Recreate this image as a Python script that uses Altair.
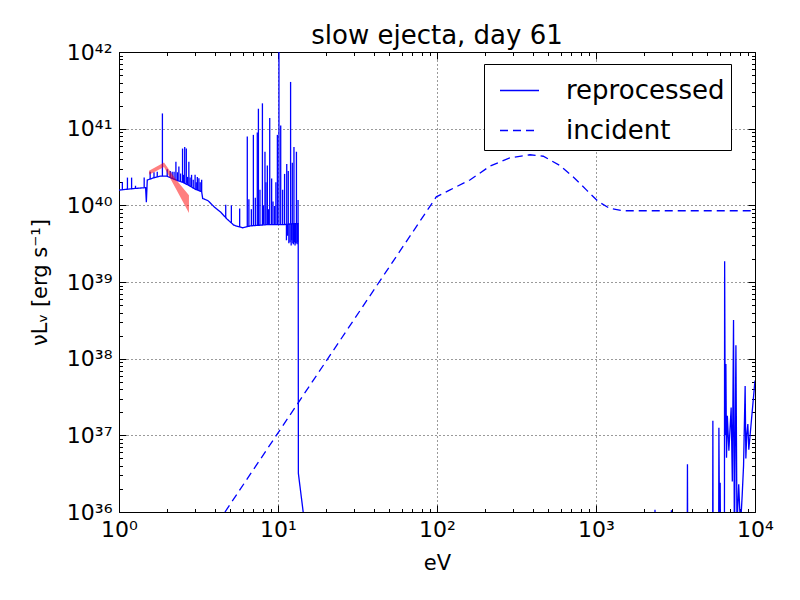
import altair as alt
import pandas as pd

# ---------------- data ----------------
# reprocessed spectrum: continuum path (eV, erg/s); 1e35 = below the axis
rep_ev = [1.00, 1.12, 1.26, 1.47, 1.486, 1.506, 1.66, 1.82, 2.00, 2.28, 2.51, 2.75,
          3.02, 3.31, 3.36, 3.63, 3.98, 4.37, 4.79, 5.28, 5.97, 6.73, 8.57, 10.9,
          12.3, 13.40, 13.43, 14.4, 14.8,
          2330, 2350, 2370, 2960, 2980, 3000, 3740, 3760, 3780,
          5410, 5433, 5455, 5900, 5929, 5990, 6039, 6090, 6420, 6442, 6500, 6560,
          6620, 6700, 6850, 7079, 7200, 7328, 7420, 7586, 7700, 7900, 8100, 8300,
          8472, 8670, 8760, 8870, 9016, 9141, 10000]
rep_lum = [1.58e40, 1.62e40, 1.66e40, 1.70e40, 1.10e40, 2.14e40, 2.29e40, 2.40e40, 2.40e40,
           2.14e40, 2.00e40, 1.82e40, 1.62e40, 1.51e40, 1.23e40, 1.15e40, 9.5e39, 8.1e39,
           6.6e39, 5.5e39, 5.1e39, 5.4e39, 5.6e39, 5.6e39, 5.75e39, 5.75e39, 3.2e36,
           1.0e36, 1e35,
           1e35, 1.07e36, 1e35, 1e35, 1.05e36, 1e35, 1e35, 4.2e36, 1e35,
           1e35, 1.55e37, 1e35, 1e35, 1.26e37, 3.2e35, 2.4e36, 1e35, 1e35, 1.86e39,
           1.0e37, 8.5e37, 5.1e36, 1.8e37, 6.3e36, 2.3e37, 2.5e36, 3.2e38, 3.2e35,
           1.5e38, 6.3e35, 2.3e36, 6.3e35, 1.6e36, 4.0e36, 4.4e37, 5.0e36, 1.0e37,
           1.4e37, 6.5e36, 5.2e37]

# emission / absorption lines of the reprocessed spectrum (eV, base, tip)
sp_ev = [1.05, 1.13, 1.20, 1.27, 1.44, 1.57, 1.66, 1.74, 1.875, 2.01, 2.10, 2.16,
         2.22, 2.28, 2.33, 2.38, 2.44, 2.51, 2.55, 2.59, 2.65, 2.70, 2.75, 2.80,
         2.86, 2.93, 3.01, 3.06, 3.11, 3.18, 3.24, 3.31,
         4.69, 5.09, 5.74, 6.41, 6.56, 6.80, 7.00, 7.20, 7.41, 7.53, 7.70, 7.98,
         8.10, 8.28, 8.40, 8.57, 8.70, 8.87, 9.12, 9.30, 9.53, 9.70, 9.91, 10.14,
         10.4, 10.7, 11.0, 11.35, 11.6, 12.0, 12.3, 12.6, 13.06, 13.37,
         11.3, 11.5, 11.7, 11.9, 12.1, 12.2, 12.4, 12.5, 12.7, 12.8, 12.9, 13.0,
         13.2, 13.3]
sp_base = [1.59e40, 1.62e40, 1.63e40, 1.66e40, 1.70e40, 2.19e40, 2.29e40, 2.34e40,
           2.40e40, 2.40e40, 2.29e40, 2.24e40, 2.19e40, 2.14e40, 2.14e40, 2.09e40,
           2.04e40, 2.00e40, 1.95e40, 1.95e40, 1.91e40, 1.86e40, 1.82e40, 1.78e40,
           1.74e40, 1.66e40, 1.62e40, 1.58e40, 1.58e40, 1.55e40, 1.53e40, 1.51e40,
           6.8e39, 5.9e39, 5.2e39, 5.2e39, 5.2e39, 5.4e39, 5.4e39, 5.5e39, 5.5e39,
           5.5e39, 5.5e39, 5.5e39, 5.6e39, 5.6e39, 5.6e39, 5.6e39, 5.6e39, 5.6e39,
           5.6e39, 5.6e39, 5.6e39, 5.6e39, 5.6e39, 5.6e39, 5.6e39, 5.6e39, 5.6e39,
           5.6e39, 5.6e39, 5.75e39, 5.75e39, 5.75e39, 5.75e39, 5.75e39,
           5.6e39, 5.6e39, 5.75e39, 5.75e39, 5.75e39, 5.75e39, 5.75e39, 5.75e39,
           5.75e39, 5.75e39, 5.75e39, 5.75e39, 5.75e39, 5.75e39]
sp_peak = [2.0e40, 2.3e40, 2.3e40, 1.8e40, 2.3e40, 2.75e40, 2.7e40, 2.75e40,
           1.58e41, 2.95e40, 2.8e40, 2.75e40, 2.75e40, 3.7e40, 2.7e40, 3.2e40,
           2.6e40, 5.5e40, 2.5e40, 5.75e40, 5.5e40, 2.35e40, 3.7e40, 2.3e40,
           2.5e40, 2.15e40, 2.5e40, 2.0e40, 2.35e40, 2.25e40, 2.0e40, 2.15e40,
           1.02e40, 1.0e40, 9.1e39, 7.9e40, 1.2e40, 8.9e39, 8.3e40, 1.26e40, 8.9e40,
           1.82e41, 1.6e40, 2.14e41, 1.0e40, 5.0e40, 2.0e40, 3.3e40, 8.9e39, 1.38e41,
           2.24e40, 1.12e40, 9.8e39, 2.0e40, 8.3e40, 3.0e42, 1.1e41, 1.6e40, 2.57e40,
           3.47e40, 2.8e40, 4.07e41, 3.6e40, 5.75e40, 5.0e40, 1.17e40,
           3.5e39, 4.0e39, 3.2e39, 3.3e39, 3.0e39, 3.5e39, 3.2e39, 3.1e39, 3.3e39,
           3.0e39, 3.2e39, 3.2e39, 3.1e39, 3.3e39]

# incident spectrum (eV, erg/s)
inc_ev = [4.64, 99.0, 120, 161, 215, 287, 384, 466, 593, 720, 873, 1033, 1224,
          1486, 10000]
inc_lum = [1.0e36, 1.29e40, 1.58e40, 2.14e40, 3.24e40, 4.17e40, 4.57e40, 4.37e40,
           3.31e40, 2.34e40, 1.58e40, 1.12e40, 9.1e39, 8.5e39, 8.5e39]

# red band
band_ev = [1.545, 1.919, 2.275, 2.754]
band_lo = [2.51e40, 3.16e40, 1.66e40, 7.94e39]
band_hi = [2.82e40, 3.63e40, 2.19e40, 1.35e40]

series_names = ["reprocessed", "incident"]
x_major = [1, 10, 100, 1000, 10000]
x_labels = ["10⁰", "10¹", "10²", "10³", "10⁴"]
y_major = [1e36, 1e37, 1e38, 1e39, 1e40, 1e41, 1e42]
y_labels = ["10³⁶", "10³⁷", "10³⁸", "10³⁹", "10⁴⁰", "10⁴¹", "10⁴²"]
x_minor = [m * v for v in x_major[:-1] for m in range(2, 10)]
y_minor = [m * v for v in y_major[:-1] for m in range(2, 10)]

# ---------------- tables ----------------
lines_df = pd.concat([
    pd.DataFrame({"series": "reprocessed", "ev": rep_ev, "lum": rep_lum,
                  "idx": range(len(rep_ev))}),
    pd.DataFrame({"series": "incident", "ev": inc_ev, "lum": inc_lum,
                  "idx": range(len(inc_ev))}),
])
spikes_df = pd.DataFrame({"ev": sp_ev, "base": sp_base, "peak": sp_peak})
band_df = pd.DataFrame({"ev": band_ev, "lo": band_lo, "hi": band_hi})


def label_expr(vals, labels):
    expr = "'%s'" % labels[-1]
    for v, lab in reversed(list(zip(vals[:-1], labels[:-1]))):
        expr = "datum.value < %r ? '%s' : %s" % (v * 2.5, lab, expr)
    return expr


FONT = "DejaVu Sans"
BLUE = "#0000ff"
xs = alt.Scale(type="log", domain=[1, 10000], nice=False, padding=0)
ys = alt.Scale(type="log", domain=[1e36, 1e42], nice=False, padding=0)

grid_common = dict(gridColor="black", gridDash=[1, 3], gridWidth=0.8, gridOpacity=1,
                   ticks=False, domain=False, labelFlush=False, labelFont=FONT,
                   labelFontSize=22, labelColor="black", titleFont=FONT,
                   titleFontSize=21, titleFontWeight="normal", titleColor="black")


def tick_axis(orient, values, size):
    return alt.Axis(orient=orient, values=values, labels=False, grid=False,
                    domain=False, tickSize=size, offset=-size, tickColor="black",
                    tickWidth=1, title=None)


legend = alt.Legend(title=None, orient="none", legendX=365, legendY=12,
                    symbolType="stroke", symbolSize=1521, symbolStrokeWidth=1.3,
                    symbolOffset=9, labelOffset=26, labelFont=FONT,
                    labelFontSize=26, labelColor="black", padding=6,
                    strokeColor="black", fillColor="white", cornerRadius=0,
                    rowPadding=6)

lines = alt.Chart(lines_df).mark_line(clip=True, strokeWidth=1.3).encode(
    x=alt.X("ev:Q", scale=xs,
            axis=alt.Axis(values=x_major, labelExpr=label_expr(x_major, x_labels),
                          grid=True, title="eV", labelPadding=7, titlePadding=12,
                          **grid_common)),
    y=alt.Y("lum:Q", scale=ys,
            axis=alt.Axis(values=y_major, labelExpr=label_expr(y_major, y_labels),
                          grid=True, title="νLᵥ [erg s⁻¹]", labelPadding=7,
                          titlePadding=16, **grid_common)),
    color=alt.Color("series:N", scale=alt.Scale(domain=series_names,
                                                range=[BLUE, BLUE]), legend=legend),
    strokeDash=alt.StrokeDash("series:N", scale=alt.Scale(domain=series_names,
                                                          range=[[1, 0], [8, 5]]),
                              legend=legend),
    order="idx:Q",
)

spikes = alt.Chart(spikes_df).mark_rule(clip=True, strokeWidth=1.3, color=BLUE).encode(
    x=alt.X("ev:Q", scale=xs, axis=tick_axis("bottom", x_major, 7)),
    y=alt.Y("base:Q", scale=ys, axis=tick_axis("left", y_major, 7)),
    y2="peak:Q",
)

band = alt.Chart(band_df).mark_area(clip=True, color="#ff0000", opacity=0.5).encode(
    x=alt.X("ev:Q", scale=xs, axis=tick_axis("bottom", x_minor, 3.5)),
    y=alt.Y("lo:Q", scale=ys, axis=tick_axis("left", y_minor, 3.5)),
    y2="hi:Q",
)

top_major = alt.Chart(band_df).mark_point(opacity=0).encode(
    x=alt.X("ev:Q", scale=xs, axis=tick_axis("top", x_major, 7)),
    y=alt.Y("lo:Q", scale=ys, axis=tick_axis("right", y_major, 7)),
)

top_minor = alt.Chart(band_df).mark_point(opacity=0).encode(
    x=alt.X("ev:Q", scale=xs, axis=tick_axis("top", x_minor, 3.5)),
    y=alt.Y("hi:Q", scale=ys, axis=tick_axis("right", y_minor, 3.5)),
)

chart = alt.layer(lines, spikes, band, top_major, top_minor).resolve_axis(
    x="independent", y="independent"
).properties(
    width=636, height=460,
    title=alt.TitleParams("slow ejecta, day 61", font=FONT, fontSize=26,
                          fontWeight="normal", color="black", offset=-8),
    autosize=alt.AutoSizeParams(type="none"),
    padding={"left": 111, "top": 44, "right": 37, "bottom": 70},
).configure_view(stroke="black", strokeWidth=1)

chart.save("out.html", embed_options={"renderer": "svg", "actions": False})
